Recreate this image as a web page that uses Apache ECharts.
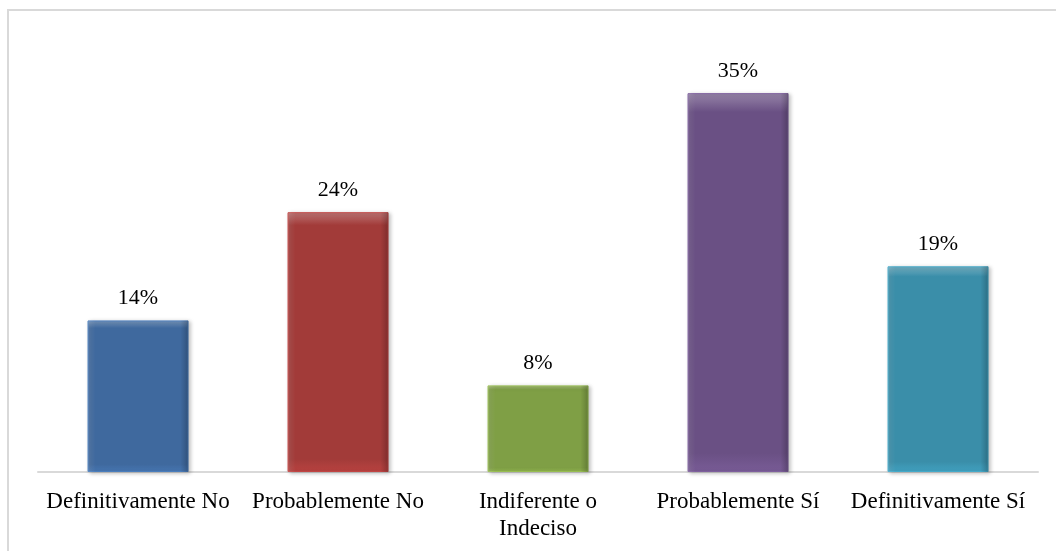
<!DOCTYPE html>
<html>
<head>
<meta charset="utf-8">
<script src="https://cdn.jsdelivr.net/npm/echarts@6/dist/echarts.min.js"></script>
<style>
  html, body { margin: 0; padding: 0; background: #fff; }
  #chart { width: 1056px; height: 551px; }
</style>
</head>
<body>
<div id="chart"></div>
<script>
// categorías y porcentajes
const categories = ['Definitivamente No', 'Probablemente No', 'Indiferente o\nIndeciso', 'Probablemente Sí', 'Definitivamente Sí'];
const values = [14, 24, 8, 35, 19];
const barColors = ['#3f699e', '#a23b39', '#7f9f45', '#6a5084', '#3a8ea9'];

const chart = echarts.init(document.getElementById('chart'));

// degradado vertical para imitar el bisel de Excel
const bevel = (c) => new echarts.graphic.LinearGradient(0, 0, 0, 1, [
  { offset: 0, color: echarts.color.lift(c, 0.3) },
  { offset: 0.05, color: c },
  { offset: 0.95, color: c },
  { offset: 1, color: echarts.color.lift(c, -0.15) }
]);

// bordes laterales (capa encima)
const sides = new echarts.graphic.LinearGradient(0, 0, 1, 0, [
  { offset: 0, color: 'rgba(255,255,255,0.12)' },
  { offset: 0.08, color: 'rgba(255,255,255,0)' },
  { offset: 0.92, color: 'rgba(0,0,0,0)' },
  { offset: 1, color: 'rgba(0,0,0,0.22)' }
]);

const font = 'Liberation Serif';

chart.setOption({
  animation: false,
  graphic: [
    {
      type: 'rect',
      shape: { x: 8, y: 10, width: 1200, height: 700 },
      style: { fill: 'none', stroke: '#d9d9d9', lineWidth: 2 },
      z: -1
    }
  ],
  grid: { left: 38, right: 18, top: 39, bottom: 79 },
  xAxis: {
    type: 'category',
    data: categories,
    axisLine: { lineStyle: { color: '#d9d9d9', width: 2 } },
    axisTick: { show: false },
    axisLabel: {
      interval: 0,
      margin: 16,
      color: '#000',
      fontFamily: font,
      fontSize: 23,
      lineHeight: 27
    }
  },
  yAxis: {
    type: 'value',
    min: 0,
    max: 40,
    show: false,
    splitLine: { show: false }
  },
  series: [
    {
      type: 'bar',
      barWidth: 101,
      data: values.map((v, i) => ({
        value: v,
        itemStyle: {
          color: bevel(barColors[i]),
          borderColor: echarts.color.lift(barColors[i], -0.2),
          borderWidth: 1,
          shadowColor: 'rgba(0,0,0,0.25)',
          shadowBlur: 4,
          shadowOffsetX: 2,
          shadowOffsetY: 1
        }
      })),
      label: {
        show: true,
        position: 'top',
        distance: 11,
        color: '#000',
        fontFamily: font,
        fontSize: 22,
        formatter: (p) => p.value + '%'
      }
    },
    {
      type: 'bar',
      barWidth: 101,
      barGap: '-100%',
      silent: true,
      data: values,
      itemStyle: { color: sides }
    }
  ]
});
</script>
</body>
</html>
